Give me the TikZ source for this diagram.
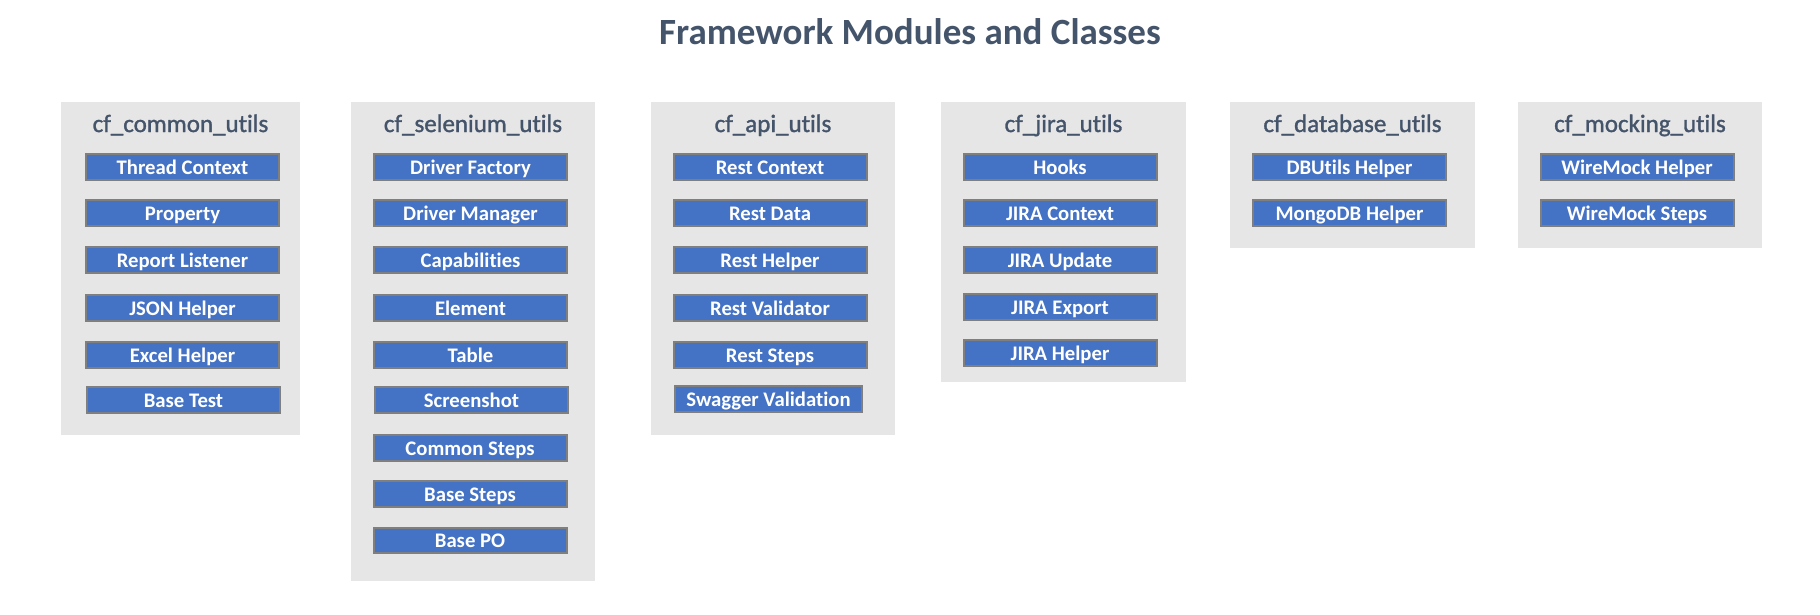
\documentclass[tikz,border=0pt]{standalone}
\usepackage{fontspec}
\setmainfont{Carlito}[Ligatures=NoCommon]
\newfontfamily\modfont{Carlito}[FakeBold=1.3,Ligatures=NoCommon]
\definecolor{titlegray}{HTML}{44546A}
\definecolor{panelgray}{HTML}{E7E6E6}
\definecolor{classblue}{HTML}{4472C4}
\definecolor{edgegray}{HTML}{7F7F7F}
\tikzset{
  panel/.style={fill=panelgray,anchor=north west,inner sep=0pt,minimum width=244pt},
  modlabel/.style={text=titlegray,font=\modfont\fontsize{25}{30}\selectfont,anchor=base},
  classbox/.style={fill=classblue,draw=edgegray,line width=2pt,minimum width=193pt,
    minimum height=25.5pt,inner sep=0pt,text height=18pt,text depth=4pt,
    text=white,font=\bfseries\fontsize{20.7}{24}\selectfont}
}
\begin{document}
\begin{tikzpicture}[x=1pt,y=-1pt]
  \useasboundingbox[fill=white] (0,0) rectangle (1820,614);
  \node[text=titlegray,font=\bfseries\fontsize{37}{44}\selectfont,anchor=base] (title) at (910,44) {Framework Modules and Classes};

  \node[panel,minimum width=239pt,minimum height=333pt] (common) at (61,102) {};
  \node[panel,minimum height=479pt] (selenium) at (351,102) {};
  \node[panel,minimum height=333pt] (api) at (651,102) {};
  \node[panel,minimum width=245pt,minimum height=279.5pt] (jira) at (941,102) {};
  \node[panel,minimum width=245pt,minimum height=146pt] (database) at (1230,102) {};
  \node[panel,minimum height=146pt] (mocking) at (1518,102) {};

  \node[modlabel] (commonlbl) at (180.5,132) {cf\_common\_utils};
  \node[modlabel] (seleniumlbl) at (473,132) {cf\_selenium\_utils};
  \node[modlabel] (apilbl) at (773,132) {cf\_api\_utils};
  \node[modlabel] (jiralbl) at (1063.5,132) {cf\_jira\_utils};
  \node[modlabel] (databaselbl) at (1352.5,132) {cf\_database\_utils};
  \node[modlabel] (mockinglbl) at (1640,132) {cf\_mocking\_utils};

  \node[classbox] (thread) at (182.5,167) {Thread Context};
  \node[classbox] (property) at (182.5,213) {Property};
  \node[classbox] (report) at (182.5,260) {Report Listener};
  \node[classbox] (json) at (182.5,308) {JSON Helper};
  \node[classbox] (excel) at (182.5,355) {Excel Helper};
  \node[classbox] (basetest) at (183.5,400) {Base Test};

  \node[classbox] (factory) at (470.5,167) {Driver Factory};
  \node[classbox] (manager) at (470.5,213) {Driver Manager};
  \node[classbox] (capabilities) at (470.5,260) {Capabilities};
  \node[classbox] (element) at (470.5,308) {Element};
  \node[classbox] (table) at (470.5,355) {Table};
  \node[classbox] (screenshot) at (471.5,400) {Screenshot};
  \node[classbox] (commonsteps) at (470,448) {Common Steps};
  \node[classbox] (basesteps) at (470,494) {Base Steps};
  \node[classbox] (basepo) at (470,540.5) {Base PO};

  \node[classbox] (restcontext) at (770,167) {Rest Context};
  \node[classbox] (restdata) at (770,213) {Rest Data};
  \node[classbox] (resthelper) at (770,260) {Rest Helper};
  \node[classbox] (restvalidator) at (770,308) {Rest Validator};
  \node[classbox] (reststeps) at (770,355) {Rest Steps};
  \node[classbox,minimum width=187pt] (swagger) at (768.5,399) {Swagger Validation};

  \node[classbox] (hooks) at (1060,167) {Hooks};
  \node[classbox] (jiracontext) at (1060,213) {JIRA Context};
  \node[classbox] (jiraupdate) at (1060,260) {JIRA Update};
  \node[classbox] (jiraexport) at (1060,307) {JIRA Export};
  \node[classbox] (jirahelper) at (1060,353) {JIRA Helper};

  \node[classbox] (dbutils) at (1349.5,167) {DBUtils Helper};
  \node[classbox] (mongodb) at (1349.5,213) {MongoDB Helper};

  \node[classbox] (wmhelper) at (1637,167) {WireMock Helper};
  \node[classbox] (wmsteps) at (1637,213) {WireMock Steps};
\end{tikzpicture}
\end{document}
